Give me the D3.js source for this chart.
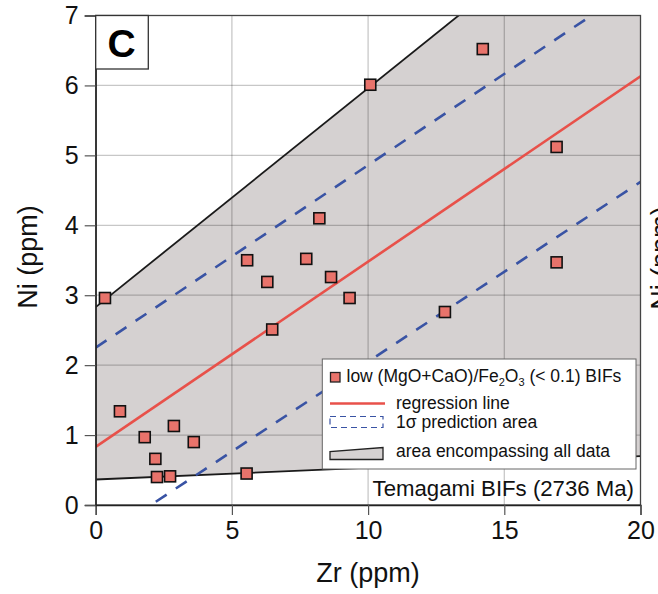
<!DOCTYPE html>
<html>
<head>
<meta charset="utf-8">
<script src="https://cdn.jsdelivr.net/npm/d3@7"></script>
<style>
  body { margin: 0; background: #fff; }
  text { font-family: "Liberation Sans", Arial, sans-serif; }
</style>
</head>
<body>
<div id="root"></div>
<script>
// data
var zr = [0.34, 0.89, 1.80, 2.19, 2.25, 2.73, 2.87, 3.60, 5.54, 5.56, 6.30, 6.48, 7.73, 8.21, 8.64, 9.32, 10.08, 12.82, 14.21, 16.92, 16.92]
var ni = [2.96, 1.34, 0.97, 0.66, 0.40, 0.41, 1.13, 0.90, 0.45, 3.50, 3.19, 2.51, 3.52, 4.10, 3.26, 2.96, 6.01, 2.76, 6.52, 5.12, 3.47]

var regressionLine = [[0, 0.83], [20, 6.13]]
var sigmaUpper = [[0, 2.25], [20, 7.47]]
var sigmaLower = [[0, -0.52], [20, 4.62]]
var envelopeUpper = [[0, 2.83], [20, 9.09]]
var envelopeLower = [[0, 0.365], [20, 0.70]]

var xTicks = [0, 5, 10, 15, 20]
var yTicks = [0, 1, 2, 3, 4, 5, 6, 7]

// set the dimensions and margins of the graph
var W = 658, H = 594
var margin = {top: 15.5, right: 17.5, bottom: 89, left: 95.7}
var width = W - margin.left - margin.right
var height = H - margin.top - margin.bottom

var svg = d3.select("#root")
            .append("svg")
            .attr("width", W)
            .attr("height", H)

var x = d3.scaleLinear().domain([0, 20]).range([0, width])
var y = d3.scaleLinear().domain([0, 7]).range([height, 0])

svg.append("defs").append("clipPath")
    .attr("id", "plotclip")
    .append("rect")
    .attr("width", width)
    .attr("height", height)

var g = svg.append("g")
    .attr("transform", "translate(" + margin.left + "," + margin.top + ")")

var plot = g.append("g").attr("clip-path", "url(#plotclip)")

var line = d3.line().x(function(d){ return x(d[0]) }).y(function(d){ return y(d[1]) })

// shaded area encompassing all data
var envelope = envelopeLower.concat(envelopeUpper.slice().reverse())
plot.append("path")
    .attr("d", line(envelope) + "Z")
    .attr("fill", "#d5d1d1")

// grid
plot.selectAll(".gx")
    .data(xTicks.slice(1, -1))
    .enter()
    .append("line")
      .attr("x1", function(d){ return x(d) })
      .attr("x2", function(d){ return x(d) })
      .attr("y1", 0)
      .attr("y2", height)
      .attr("stroke", "#000")
      .attr("stroke-opacity", 0.22)
      .attr("stroke-width", 1.3)
plot.selectAll(".gy")
    .data(yTicks.slice(1, -1))
    .enter()
    .append("line")
      .attr("x1", 0)
      .attr("x2", width)
      .attr("y1", function(d){ return y(d) })
      .attr("y2", function(d){ return y(d) })
      .attr("stroke", "#000")
      .attr("stroke-opacity", 0.22)
      .attr("stroke-width", 1.3)

// envelope borders
;[envelopeUpper, envelopeLower].forEach(function(l){
  plot.append("path")
      .attr("d", line(l))
      .attr("fill", "none")
      .attr("stroke", "#1a1a1a")
      .attr("stroke-width", 1.8)
})

// 1 sigma prediction lines
;[sigmaUpper, sigmaLower].forEach(function(l){
  plot.append("path")
      .attr("d", line(l))
      .attr("fill", "none")
      .attr("stroke", "#3953a4")
      .attr("stroke-width", 2.6)
      .attr("stroke-dasharray", "13,11")
})

// regression line
plot.append("path")
    .attr("d", line(regressionLine))
    .attr("fill", "none")
    .attr("stroke", "#e8514a")
    .attr("stroke-width", 2.6)

// points
var sz = 11
plot.selectAll(".pt")
    .data(d3.range(zr.length))
    .enter()
    .append("rect")
      .attr("x", function(i){ return x(zr[i]) - sz/2 })
      .attr("y", function(i){ return y(ni[i]) - sz/2 })
      .attr("width", sz)
      .attr("height", sz)
      .attr("fill", "#e8736b")
      .attr("stroke", "#111")
      .attr("stroke-width", 1.6)

// frame
g.append("rect")
    .attr("width", width)
    .attr("height", height)
    .attr("fill", "none")
    .attr("stroke", "#444")
    .attr("stroke-width", 1.3)

// axes
var xAxis = g.append("g")
    .attr("transform", "translate(0," + height + ")")
    .call(d3.axisBottom(x).tickValues(xTicks).tickFormat(d3.format("d")).tickSize(10).tickPadding(5))
var yAxis = g.append("g")
    .call(d3.axisLeft(y).tickValues(yTicks).tickFormat(d3.format("d")).tickSize(11).tickPadding(6))
;[xAxis, yAxis].forEach(function(a){
  a.selectAll("path").attr("stroke", "#222").attr("stroke-width", 1.3)
  a.selectAll("line").attr("stroke", "#555").attr("stroke-width", 1.2)
  a.selectAll("text")
    .attr("font-family", "Liberation Sans, Arial, sans-serif")
    .attr("font-size", 25)
    .attr("fill", "#111")
})
xAxis.selectAll("text").attr("dy", "0.75em")

// axis titles
svg.append("text")
    .attr("x", margin.left + width/2)
    .attr("y", 582)
    .attr("text-anchor", "middle")
    .attr("font-size", 27)
    .attr("fill", "#111")
    .text("Zr (ppm)")
svg.append("text")
    .attr("transform", "translate(37," + 257 + ") rotate(-90)")
    .attr("text-anchor", "middle")
    .attr("font-size", 27)
    .attr("fill", "#111")
    .text("Ni (ppm)")

// neighbouring panel's label, cut by the edge
svg.append("text")
    .attr("transform", "translate(670," + 258 + ") rotate(-90)")
    .attr("text-anchor", "middle")
    .attr("font-size", 27)
    .attr("fill", "#111")
    .text("Ni (ppm)")

// panel letter
svg.append("rect")
    .attr("x", margin.left)
    .attr("y", margin.top)
    .attr("width", 52.6)
    .attr("height", 53.5)
    .attr("fill", "#fff")
    .attr("stroke", "#333")
    .attr("stroke-width", 1.3)
svg.append("text")
    .attr("x", 121.5)
    .attr("y", 56.5)
    .attr("text-anchor", "middle")
    .attr("font-size", 39)
    .attr("font-weight", "bold")
    .attr("fill", "#000")
    .text("C")

// legend
var leg = svg.append("g")
leg.append("rect")
    .attr("x", 322.3)
    .attr("y", 359)
    .attr("width", 313.7)
    .attr("height", 110)
    .attr("fill", "#fff")
    .attr("stroke", "#666")
    .attr("stroke-width", 1)

leg.append("rect")
    .attr("x", 330.5).attr("y", 372.5)
    .attr("width", 9.5).attr("height", 9.5)
    .attr("fill", "#e8736b").attr("stroke", "#222").attr("stroke-width", 1.3)
var t1 = leg.append("text")
    .attr("x", 346.5).attr("y", 382)
    .attr("font-size", 17.5).attr("fill", "#111")
t1.append("tspan").text("low (MgO+CaO)/Fe")
t1.append("tspan").attr("font-size", 11).attr("dy", 4).text("2")
t1.append("tspan").attr("dy", -4).text("O")
t1.append("tspan").attr("font-size", 11).attr("dy", 4).text("3")
t1.append("tspan").attr("dy", -4).text(" (< 0.1) BIFs")

leg.append("line")
    .attr("x1", 330).attr("x2", 385).attr("y1", 403.5).attr("y2", 403.5)
    .attr("stroke", "#e8514a").attr("stroke-width", 2.6)
leg.append("text")
    .attr("x", 396).attr("y", 409)
    .attr("font-size", 17.5).attr("fill", "#111")
    .text("regression line")

leg.append("rect")
    .attr("x", 330).attr("y", 416.5)
    .attr("width", 53).attr("height", 11)
    .attr("fill", "none").attr("stroke", "#3953a4")
    .attr("stroke-width", 1.2).attr("stroke-dasharray", "6,4")
leg.append("text")
    .attr("x", 396).attr("y", 428)
    .attr("font-size", 17.5).attr("fill", "#111")
    .text("1σ prediction area")

leg.append("path")
    .attr("d", "M330,459.5L330,451.5L383,447.5L383,459.5Z")
    .attr("fill", "#d5d1d1").attr("stroke", "#222").attr("stroke-width", 1.3)
leg.append("text")
    .attr("x", 396).attr("y", 457)
    .attr("font-size", 17.5).attr("fill", "#111")
    .text("area encompassing all data")

svg.append("text")
    .attr("x", 634).attr("y", 495.5)
    .attr("text-anchor", "end")
    .attr("font-size", 22.2).attr("fill", "#111")
    .text("Temagami BIFs (2736 Ma)")
</script>
</body>
</html>
